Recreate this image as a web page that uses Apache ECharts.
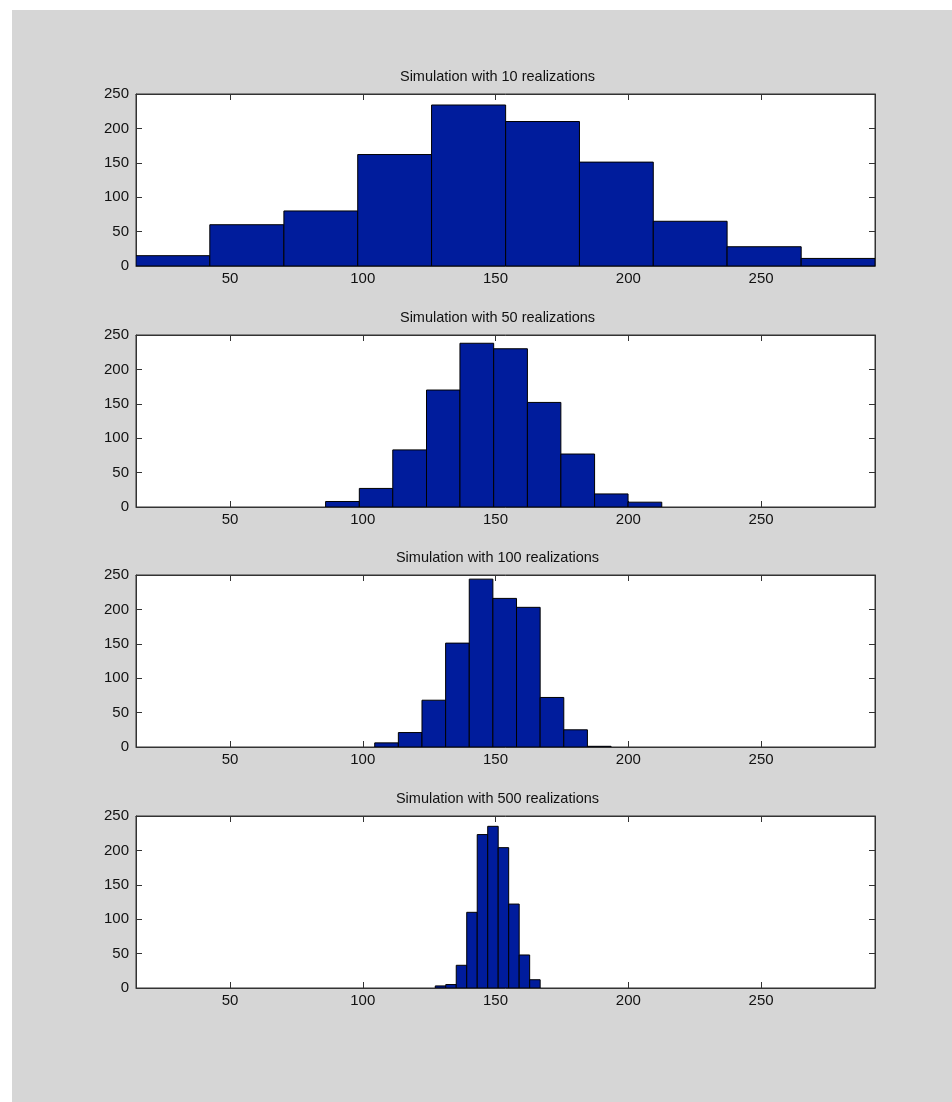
<!DOCTYPE html>
<html><head><meta charset="utf-8">
<script src="https://cdn.jsdelivr.net/npm/echarts@6/dist/echarts.min.js"></script>
<style>
html,body{margin:0;padding:0;background:#ffffff;}
#bg{position:absolute;left:12px;top:10px;width:940px;height:1092px;background:#d6d6d6;}
#chart{position:absolute;left:0;top:0;width:952px;height:1102px;}
</style></head>
<body><div id="bg"></div><div id="chart"></div>
<script>
// ---- data ----
const titles = [
  'Simulation with 10 realizations',
  'Simulation with 50 realizations',
  'Simulation with 100 realizations',
  'Simulation with 500 realizations'
];
const edges10  = [14.6, 42.4, 70.3, 98.1, 125.9, 153.8, 181.6, 209.4, 237.2, 265.1, 292.9];
const counts10 = [15, 60, 80, 162, 234, 210, 151, 65, 28, 11];
const edges50  = [86.0, 98.7, 111.3, 124.0, 136.6, 149.3, 162.0, 174.6, 187.3, 199.9, 212.6];
const counts50 = [8, 27, 83, 170, 238, 230, 152, 77, 19, 7];
const edges100  = [104.5, 113.4, 122.3, 131.2, 140.1, 149.0, 157.9, 166.8, 175.7, 184.6, 193.5];
const counts100 = [6, 21, 68, 151, 244, 216, 203, 72, 25, 1];
const edges500  = [127.3, 131.25, 135.2, 139.15, 143.1, 147.05, 151.0, 154.95, 158.9, 162.85, 166.8];
const counts500 = [3, 5, 33, 110, 223, 235, 204, 122, 48, 12];
const xTickValues = [50, 100, 150, 200, 250];
const xRange = [14.6, 292.9];
const yRange = [0, 250];
const yStep = 50;

// ---- layout / style ----
const panels = [
  {title: titles[0], edges: edges10,  counts: counts10},
  {title: titles[1], edges: edges50,  counts: counts50},
  {title: titles[2], edges: edges100, counts: counts100},
  {title: titles[3], edges: edges500, counts: counts500}
];
const plotTops = [94, 335, 575, 816];
const plotLeft = 136, plotWidth = 739, plotHeight = 172;
const FONT = '"Liberation Sans", Arial, Helvetica, sans-serif';
const AX = '#333333';
const TXT = '#111111';
const BAR = '#001c9c';

const grid = [], xAxis = [], yAxis = [], series = [], graphic = [];
panels.forEach((p, i) => {
  grid.push({left: plotLeft, top: plotTops[i], width: plotWidth, height: plotHeight,
    show: true, backgroundColor: '#ffffff', borderColor: AX, borderWidth: 1, containLabel: false});
  const xBase = {type: 'value', gridIndex: i, min: xRange[0], max: xRange[1],
    splitLine: {show: false},
    axisLine: {show: true, onZero: false, lineStyle: {color: AX, width: 1}},
    axisTick: {show: true, inside: true, length: 6, customValues: xTickValues, lineStyle: {color: AX}}};
  xAxis.push(Object.assign({}, xBase, {position: 'bottom',
    axisLabel: {show: true, customValues: xTickValues, margin: 5, color: TXT, fontSize: 15, fontFamily: FONT}}));
  xAxis.push(Object.assign({}, xBase, {position: 'top', axisLabel: {show: false}}));
  const yBase = {type: 'value', gridIndex: i, min: yRange[0], max: yRange[1], interval: yStep,
    splitLine: {show: false},
    axisLine: {show: true, onZero: false, lineStyle: {color: AX, width: 1}},
    axisTick: {show: true, inside: true, length: 6, lineStyle: {color: AX}}};
  yAxis.push(Object.assign({}, yBase, {position: 'left',
    axisLabel: {show: true, margin: 7, color: TXT, fontSize: 15, fontFamily: FONT}}));
  yAxis.push(Object.assign({}, yBase, {position: 'right', axisLabel: {show: false}}));

  series.push({
    type: 'custom', xAxisIndex: 2 * i, yAxisIndex: 2 * i, clip: true,
    encode: {x: [0, 1], y: 2},
    data: p.counts.map((c, k) => [p.edges[k], p.edges[k + 1], c]),
    renderItem: function (params, api) {
      const a = api.coord([api.value(0), api.value(2)]);
      const b = api.coord([api.value(1), 0]);
      return {type: 'rect',
        shape: {x: a[0], y: a[1], width: b[0] - a[0], height: b[1] - a[1]},
        style: {fill: BAR, stroke: '#000000', lineWidth: 1}};
    }
  });
  graphic.push({type: 'text', x: 497.5, y: plotTops[i] - 17, z: 10,
    style: {text: p.title, fill: TXT, fontSize: 14.5, fontFamily: FONT, align: 'center', verticalAlign: 'middle'}});
});

const chart = echarts.init(document.getElementById('chart'), null, {renderer: 'canvas'});
chart.setOption({
  backgroundColor: 'transparent',
  animation: false,
  grid: grid, xAxis: xAxis, yAxis: yAxis, series: series, graphic: graphic
});
</script>
</body></html>
